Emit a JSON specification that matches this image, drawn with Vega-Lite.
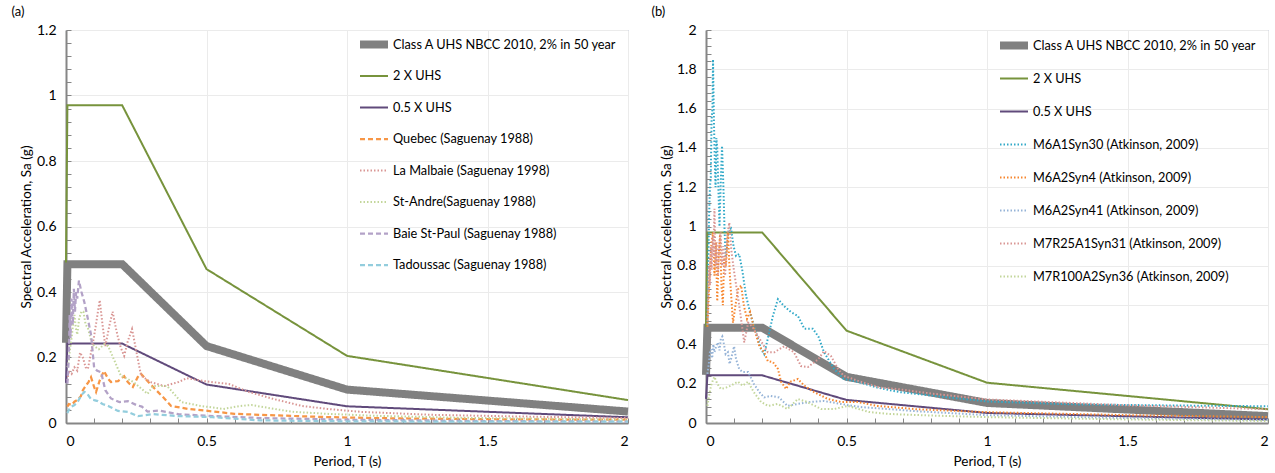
{
  "$schema": "https://vega.github.io/schema/vega-lite/v6.json",
  "background": "white",
  "padding": {"left": 10, "top": 5, "right": 0, "bottom": 3},
  "bounds": "flush",
  "spacing": 78,
  "config": {
    "font": "Lato",
    "view": {"stroke": "#8EA9DB", "strokeWidth": 1},
    "axis": {
      "labelFont": "Lato", "titleFont": "Lato", "labelFontSize": 14, "titleFontSize": 13.5,
      "titleFontWeight": "normal", "labelColor": "#000000", "titleColor": "#000000",
      "domainColor": "#868686", "domainWidth": 2, "tickColor": "#868686", "tickSize": -5, "tickWidth": 1,
      "gridColor": "#EBEBEB", "gridWidth": 1
    },
    "legend": {"labelFont": "Lato", "labelFontSize": 12.75, "labelColor": "#000000", "labelLimit": 400, "clipHeight": 23},
    "title": {"font": "Lato", "fontSize": 13, "fontWeight": "normal", "anchor": "start", "frame": "bounds", "offset": 4, "dx": -8, "color": "#000000"}
  },
  "datasets": {
    "uhs": [
      {"s":"Class A UHS NBCC 2010, 2% in 50 year","T":0,"Sa":0.245},
      {"s":"Class A UHS NBCC 2010, 2% in 50 year","T":0.005,"Sa":0.485},
      {"s":"Class A UHS NBCC 2010, 2% in 50 year","T":0.2,"Sa":0.485},
      {"s":"Class A UHS NBCC 2010, 2% in 50 year","T":0.5,"Sa":0.235},
      {"s":"Class A UHS NBCC 2010, 2% in 50 year","T":1,"Sa":0.102},
      {"s":"Class A UHS NBCC 2010, 2% in 50 year","T":2,"Sa":0.035},
      {"s":"2 X UHS","T":0,"Sa":0.49},
      {"s":"2 X UHS","T":0.005,"Sa":0.97},
      {"s":"2 X UHS","T":0.2,"Sa":0.97},
      {"s":"2 X UHS","T":0.5,"Sa":0.47},
      {"s":"2 X UHS","T":1,"Sa":0.205},
      {"s":"2 X UHS","T":2,"Sa":0.07},
      {"s":"0.5 X UHS","T":0,"Sa":0.1225},
      {"s":"0.5 X UHS","T":0.005,"Sa":0.2425},
      {"s":"0.5 X UHS","T":0.2,"Sa":0.2425},
      {"s":"0.5 X UHS","T":0.5,"Sa":0.1175},
      {"s":"0.5 X UHS","T":1,"Sa":0.051},
      {"s":"0.5 X UHS","T":2,"Sa":0.0175}
    ],
    "a": [
      {"s":"Quebec (Saguenay 1988)","T":0.005,"Sa":0.05},{"s":"Quebec (Saguenay 1988)","T":0.01,"Sa":0.058},{"s":"Quebec (Saguenay 1988)","T":0.02,"Sa":0.055},{"s":"Quebec (Saguenay 1988)","T":0.03,"Sa":0.065},{"s":"Quebec (Saguenay 1988)","T":0.04,"Sa":0.07},{"s":"Quebec (Saguenay 1988)","T":0.053,"Sa":0.082},{"s":"Quebec (Saguenay 1988)","T":0.06,"Sa":0.1},{"s":"Quebec (Saguenay 1988)","T":0.07,"Sa":0.113},{"s":"Quebec (Saguenay 1988)","T":0.08,"Sa":0.125},{"s":"Quebec (Saguenay 1988)","T":0.089,"Sa":0.14},{"s":"Quebec (Saguenay 1988)","T":0.1,"Sa":0.11},{"s":"Quebec (Saguenay 1988)","T":0.107,"Sa":0.095},{"s":"Quebec (Saguenay 1988)","T":0.12,"Sa":0.13},{"s":"Quebec (Saguenay 1988)","T":0.135,"Sa":0.159},{"s":"Quebec (Saguenay 1988)","T":0.15,"Sa":0.135},{"s":"Quebec (Saguenay 1988)","T":0.16,"Sa":0.125},{"s":"Quebec (Saguenay 1988)","T":0.185,"Sa":0.128},{"s":"Quebec (Saguenay 1988)","T":0.207,"Sa":0.143},{"s":"Quebec (Saguenay 1988)","T":0.22,"Sa":0.125},{"s":"Quebec (Saguenay 1988)","T":0.238,"Sa":0.11},{"s":"Quebec (Saguenay 1988)","T":0.255,"Sa":0.14},{"s":"Quebec (Saguenay 1988)","T":0.267,"Sa":0.15},{"s":"Quebec (Saguenay 1988)","T":0.29,"Sa":0.128},{"s":"Quebec (Saguenay 1988)","T":0.31,"Sa":0.11},{"s":"Quebec (Saguenay 1988)","T":0.327,"Sa":0.095},{"s":"Quebec (Saguenay 1988)","T":0.35,"Sa":0.075},{"s":"Quebec (Saguenay 1988)","T":0.374,"Sa":0.052},{"s":"Quebec (Saguenay 1988)","T":0.434,"Sa":0.043},{"s":"Quebec (Saguenay 1988)","T":0.505,"Sa":0.037},{"s":"Quebec (Saguenay 1988)","T":0.6,"Sa":0.028},{"s":"Quebec (Saguenay 1988)","T":0.72,"Sa":0.024},{"s":"Quebec (Saguenay 1988)","T":0.93,"Sa":0.018},{"s":"Quebec (Saguenay 1988)","T":1.1,"Sa":0.015},{"s":"Quebec (Saguenay 1988)","T":1.3,"Sa":0.013},{"s":"Quebec (Saguenay 1988)","T":1.6,"Sa":0.011},{"s":"Quebec (Saguenay 1988)","T":2,"Sa":0.01},
      {"s":"La Malbaie (Saguenay 1998)","T":0.005,"Sa":0.13},{"s":"La Malbaie (Saguenay 1998)","T":0.01,"Sa":0.16},{"s":"La Malbaie (Saguenay 1998)","T":0.02,"Sa":0.15},{"s":"La Malbaie (Saguenay 1998)","T":0.03,"Sa":0.17},{"s":"La Malbaie (Saguenay 1998)","T":0.04,"Sa":0.16},{"s":"La Malbaie (Saguenay 1998)","T":0.05,"Sa":0.215},{"s":"La Malbaie (Saguenay 1998)","T":0.06,"Sa":0.2},{"s":"La Malbaie (Saguenay 1998)","T":0.07,"Sa":0.17},{"s":"La Malbaie (Saguenay 1998)","T":0.078,"Sa":0.165},{"s":"La Malbaie (Saguenay 1998)","T":0.09,"Sa":0.22},{"s":"La Malbaie (Saguenay 1998)","T":0.1,"Sa":0.265},{"s":"La Malbaie (Saguenay 1998)","T":0.11,"Sa":0.32},{"s":"La Malbaie (Saguenay 1998)","T":0.12,"Sa":0.375},{"s":"La Malbaie (Saguenay 1998)","T":0.13,"Sa":0.3},{"s":"La Malbaie (Saguenay 1998)","T":0.14,"Sa":0.235},{"s":"La Malbaie (Saguenay 1998)","T":0.155,"Sa":0.3},{"s":"La Malbaie (Saguenay 1998)","T":0.166,"Sa":0.34},{"s":"La Malbaie (Saguenay 1998)","T":0.175,"Sa":0.3},{"s":"La Malbaie (Saguenay 1998)","T":0.184,"Sa":0.265},{"s":"La Malbaie (Saguenay 1998)","T":0.195,"Sa":0.23},{"s":"La Malbaie (Saguenay 1998)","T":0.207,"Sa":0.205},{"s":"La Malbaie (Saguenay 1998)","T":0.22,"Sa":0.25},{"s":"La Malbaie (Saguenay 1998)","T":0.235,"Sa":0.287},{"s":"La Malbaie (Saguenay 1998)","T":0.25,"Sa":0.22},{"s":"La Malbaie (Saguenay 1998)","T":0.267,"Sa":0.145},{"s":"La Malbaie (Saguenay 1998)","T":0.3,"Sa":0.125},{"s":"La Malbaie (Saguenay 1998)","T":0.35,"Sa":0.113},{"s":"La Malbaie (Saguenay 1998)","T":0.4,"Sa":0.125},{"s":"La Malbaie (Saguenay 1998)","T":0.43,"Sa":0.137},{"s":"La Malbaie (Saguenay 1998)","T":0.49,"Sa":0.128},{"s":"La Malbaie (Saguenay 1998)","T":0.58,"Sa":0.119},{"s":"La Malbaie (Saguenay 1998)","T":0.65,"Sa":0.095},{"s":"La Malbaie (Saguenay 1998)","T":0.74,"Sa":0.073},{"s":"La Malbaie (Saguenay 1998)","T":0.84,"Sa":0.052},{"s":"La Malbaie (Saguenay 1998)","T":0.93,"Sa":0.043},{"s":"La Malbaie (Saguenay 1998)","T":1.05,"Sa":0.034},{"s":"La Malbaie (Saguenay 1998)","T":1.3,"Sa":0.025},{"s":"La Malbaie (Saguenay 1998)","T":1.6,"Sa":0.02},{"s":"La Malbaie (Saguenay 1998)","T":2,"Sa":0.015},
      {"s":"St-Andre(Saguenay 1988)","T":0.005,"Sa":0.17},{"s":"St-Andre(Saguenay 1988)","T":0.01,"Sa":0.19},{"s":"St-Andre(Saguenay 1988)","T":0.015,"Sa":0.23},{"s":"St-Andre(Saguenay 1988)","T":0.02,"Sa":0.26},{"s":"St-Andre(Saguenay 1988)","T":0.025,"Sa":0.3},{"s":"St-Andre(Saguenay 1988)","T":0.03,"Sa":0.33},{"s":"St-Andre(Saguenay 1988)","T":0.035,"Sa":0.29},{"s":"St-Andre(Saguenay 1988)","T":0.04,"Sa":0.27},{"s":"St-Andre(Saguenay 1988)","T":0.047,"Sa":0.32},{"s":"St-Andre(Saguenay 1988)","T":0.055,"Sa":0.34},{"s":"St-Andre(Saguenay 1988)","T":0.062,"Sa":0.34},{"s":"St-Andre(Saguenay 1988)","T":0.07,"Sa":0.3},{"s":"St-Andre(Saguenay 1988)","T":0.078,"Sa":0.29},{"s":"St-Andre(Saguenay 1988)","T":0.09,"Sa":0.25},{"s":"St-Andre(Saguenay 1988)","T":0.1,"Sa":0.235},{"s":"St-Andre(Saguenay 1988)","T":0.117,"Sa":0.225},{"s":"St-Andre(Saguenay 1988)","T":0.135,"Sa":0.24},{"s":"St-Andre(Saguenay 1988)","T":0.15,"Sa":0.235},{"s":"St-Andre(Saguenay 1988)","T":0.17,"Sa":0.195},{"s":"St-Andre(Saguenay 1988)","T":0.195,"Sa":0.145},{"s":"St-Andre(Saguenay 1988)","T":0.24,"Sa":0.125},{"s":"St-Andre(Saguenay 1988)","T":0.29,"Sa":0.089},{"s":"St-Andre(Saguenay 1988)","T":0.31,"Sa":0.113},{"s":"St-Andre(Saguenay 1988)","T":0.36,"Sa":0.113},{"s":"St-Andre(Saguenay 1988)","T":0.41,"Sa":0.064},{"s":"St-Andre(Saguenay 1988)","T":0.48,"Sa":0.052},{"s":"St-Andre(Saguenay 1988)","T":0.56,"Sa":0.043},{"s":"St-Andre(Saguenay 1988)","T":0.62,"Sa":0.052},{"s":"St-Andre(Saguenay 1988)","T":0.66,"Sa":0.055},{"s":"St-Andre(Saguenay 1988)","T":0.74,"Sa":0.043},{"s":"St-Andre(Saguenay 1988)","T":0.81,"Sa":0.034},{"s":"St-Andre(Saguenay 1988)","T":0.93,"Sa":0.028},{"s":"St-Andre(Saguenay 1988)","T":1.1,"Sa":0.022},{"s":"St-Andre(Saguenay 1988)","T":1.4,"Sa":0.016},{"s":"St-Andre(Saguenay 1988)","T":2,"Sa":0.01},
      {"s":"Baie St-Paul (Saguenay 1988)","T":0.005,"Sa":0.12},{"s":"Baie St-Paul (Saguenay 1988)","T":0.01,"Sa":0.2},{"s":"Baie St-Paul (Saguenay 1988)","T":0.013,"Sa":0.33},{"s":"Baie St-Paul (Saguenay 1988)","T":0.016,"Sa":0.26},{"s":"Baie St-Paul (Saguenay 1988)","T":0.02,"Sa":0.38},{"s":"Baie St-Paul (Saguenay 1988)","T":0.024,"Sa":0.3},{"s":"Baie St-Paul (Saguenay 1988)","T":0.028,"Sa":0.41},{"s":"Baie St-Paul (Saguenay 1988)","T":0.032,"Sa":0.34},{"s":"Baie St-Paul (Saguenay 1988)","T":0.036,"Sa":0.4},{"s":"Baie St-Paul (Saguenay 1988)","T":0.04,"Sa":0.38},{"s":"Baie St-Paul (Saguenay 1988)","T":0.046,"Sa":0.435},{"s":"Baie St-Paul (Saguenay 1988)","T":0.055,"Sa":0.4},{"s":"Baie St-Paul (Saguenay 1988)","T":0.065,"Sa":0.37},{"s":"Baie St-Paul (Saguenay 1988)","T":0.075,"Sa":0.33},{"s":"Baie St-Paul (Saguenay 1988)","T":0.089,"Sa":0.27},{"s":"Baie St-Paul (Saguenay 1988)","T":0.1,"Sa":0.17},{"s":"Baie St-Paul (Saguenay 1988)","T":0.11,"Sa":0.16},{"s":"Baie St-Paul (Saguenay 1988)","T":0.125,"Sa":0.155},{"s":"Baie St-Paul (Saguenay 1988)","T":0.14,"Sa":0.1},{"s":"Baie St-Paul (Saguenay 1988)","T":0.16,"Sa":0.075},{"s":"Baie St-Paul (Saguenay 1988)","T":0.19,"Sa":0.064},{"s":"Baie St-Paul (Saguenay 1988)","T":0.22,"Sa":0.067},{"s":"Baie St-Paul (Saguenay 1988)","T":0.25,"Sa":0.055},{"s":"Baie St-Paul (Saguenay 1988)","T":0.27,"Sa":0.05},{"s":"Baie St-Paul (Saguenay 1988)","T":0.29,"Sa":0.035},{"s":"Baie St-Paul (Saguenay 1988)","T":0.33,"Sa":0.038},{"s":"Baie St-Paul (Saguenay 1988)","T":0.4,"Sa":0.027},{"s":"Baie St-Paul (Saguenay 1988)","T":0.5,"Sa":0.022},{"s":"Baie St-Paul (Saguenay 1988)","T":0.7,"Sa":0.015},{"s":"Baie St-Paul (Saguenay 1988)","T":1,"Sa":0.01},{"s":"Baie St-Paul (Saguenay 1988)","T":1.5,"Sa":0.006},{"s":"Baie St-Paul (Saguenay 1988)","T":2,"Sa":0.004},
      {"s":"Tadoussac (Saguenay 1988)","T":0.005,"Sa":0.03},{"s":"Tadoussac (Saguenay 1988)","T":0.01,"Sa":0.04},{"s":"Tadoussac (Saguenay 1988)","T":0.02,"Sa":0.05},{"s":"Tadoussac (Saguenay 1988)","T":0.03,"Sa":0.055},{"s":"Tadoussac (Saguenay 1988)","T":0.043,"Sa":0.067},{"s":"Tadoussac (Saguenay 1988)","T":0.055,"Sa":0.085},{"s":"Tadoussac (Saguenay 1988)","T":0.065,"Sa":0.095},{"s":"Tadoussac (Saguenay 1988)","T":0.075,"Sa":0.09},{"s":"Tadoussac (Saguenay 1988)","T":0.089,"Sa":0.073},{"s":"Tadoussac (Saguenay 1988)","T":0.1,"Sa":0.07},{"s":"Tadoussac (Saguenay 1988)","T":0.113,"Sa":0.067},{"s":"Tadoussac (Saguenay 1988)","T":0.13,"Sa":0.058},{"s":"Tadoussac (Saguenay 1988)","T":0.15,"Sa":0.052},{"s":"Tadoussac (Saguenay 1988)","T":0.185,"Sa":0.037},{"s":"Tadoussac (Saguenay 1988)","T":0.22,"Sa":0.034},{"s":"Tadoussac (Saguenay 1988)","T":0.256,"Sa":0.021},{"s":"Tadoussac (Saguenay 1988)","T":0.31,"Sa":0.027},{"s":"Tadoussac (Saguenay 1988)","T":0.4,"Sa":0.021},{"s":"Tadoussac (Saguenay 1988)","T":0.52,"Sa":0.018},{"s":"Tadoussac (Saguenay 1988)","T":0.69,"Sa":0.008},{"s":"Tadoussac (Saguenay 1988)","T":1,"Sa":0.005},{"s":"Tadoussac (Saguenay 1988)","T":1.5,"Sa":0.004},{"s":"Tadoussac (Saguenay 1988)","T":2,"Sa":0.004}
    ],
    "b": [
      {"s":"M6A1Syn30 (Atkinson, 2009)","T":0.005,"Sa":0.5},{"s":"M6A1Syn30 (Atkinson, 2009)","T":0.008,"Sa":0.8},{"s":"M6A1Syn30 (Atkinson, 2009)","T":0.011,"Sa":1.05},{"s":"M6A1Syn30 (Atkinson, 2009)","T":0.014,"Sa":1.2},{"s":"M6A1Syn30 (Atkinson, 2009)","T":0.017,"Sa":1.25},{"s":"M6A1Syn30 (Atkinson, 2009)","T":0.02,"Sa":1.55},{"s":"M6A1Syn30 (Atkinson, 2009)","T":0.023,"Sa":1.6},{"s":"M6A1Syn30 (Atkinson, 2009)","T":0.025,"Sa":1.85},{"s":"M6A1Syn30 (Atkinson, 2009)","T":0.028,"Sa":1.55},{"s":"M6A1Syn30 (Atkinson, 2009)","T":0.031,"Sa":1.35},{"s":"M6A1Syn30 (Atkinson, 2009)","T":0.034,"Sa":1.2},{"s":"M6A1Syn30 (Atkinson, 2009)","T":0.037,"Sa":1.45},{"s":"M6A1Syn30 (Atkinson, 2009)","T":0.04,"Sa":1.4},{"s":"M6A1Syn30 (Atkinson, 2009)","T":0.044,"Sa":1.2},{"s":"M6A1Syn30 (Atkinson, 2009)","T":0.048,"Sa":1.0},{"s":"M6A1Syn30 (Atkinson, 2009)","T":0.052,"Sa":1.2},{"s":"M6A1Syn30 (Atkinson, 2009)","T":0.057,"Sa":1.41},{"s":"M6A1Syn30 (Atkinson, 2009)","T":0.062,"Sa":1.2},{"s":"M6A1Syn30 (Atkinson, 2009)","T":0.066,"Sa":0.98},{"s":"M6A1Syn30 (Atkinson, 2009)","T":0.07,"Sa":0.85},{"s":"M6A1Syn30 (Atkinson, 2009)","T":0.075,"Sa":0.9},{"s":"M6A1Syn30 (Atkinson, 2009)","T":0.08,"Sa":0.98},{"s":"M6A1Syn30 (Atkinson, 2009)","T":0.089,"Sa":0.99},{"s":"M6A1Syn30 (Atkinson, 2009)","T":0.098,"Sa":0.9},{"s":"M6A1Syn30 (Atkinson, 2009)","T":0.107,"Sa":0.85},{"s":"M6A1Syn30 (Atkinson, 2009)","T":0.118,"Sa":0.86},{"s":"M6A1Syn30 (Atkinson, 2009)","T":0.13,"Sa":0.77},{"s":"M6A1Syn30 (Atkinson, 2009)","T":0.142,"Sa":0.65},{"s":"M6A1Syn30 (Atkinson, 2009)","T":0.16,"Sa":0.545},{"s":"M6A1Syn30 (Atkinson, 2009)","T":0.178,"Sa":0.46},{"s":"M6A1Syn30 (Atkinson, 2009)","T":0.196,"Sa":0.375},{"s":"M6A1Syn30 (Atkinson, 2009)","T":0.207,"Sa":0.35},{"s":"M6A1Syn30 (Atkinson, 2009)","T":0.22,"Sa":0.43},{"s":"M6A1Syn30 (Atkinson, 2009)","T":0.238,"Sa":0.545},{"s":"M6A1Syn30 (Atkinson, 2009)","T":0.256,"Sa":0.63},{"s":"M6A1Syn30 (Atkinson, 2009)","T":0.278,"Sa":0.595},{"s":"M6A1Syn30 (Atkinson, 2009)","T":0.302,"Sa":0.565},{"s":"M6A1Syn30 (Atkinson, 2009)","T":0.327,"Sa":0.545},{"s":"M6A1Syn30 (Atkinson, 2009)","T":0.35,"Sa":0.48},{"s":"M6A1Syn30 (Atkinson, 2009)","T":0.38,"Sa":0.48},{"s":"M6A1Syn30 (Atkinson, 2009)","T":0.4,"Sa":0.44},{"s":"M6A1Syn30 (Atkinson, 2009)","T":0.42,"Sa":0.36},{"s":"M6A1Syn30 (Atkinson, 2009)","T":0.456,"Sa":0.275},{"s":"M6A1Syn30 (Atkinson, 2009)","T":0.49,"Sa":0.224},{"s":"M6A1Syn30 (Atkinson, 2009)","T":0.54,"Sa":0.21},{"s":"M6A1Syn30 (Atkinson, 2009)","T":0.61,"Sa":0.18},{"s":"M6A1Syn30 (Atkinson, 2009)","T":0.69,"Sa":0.157},{"s":"M6A1Syn30 (Atkinson, 2009)","T":0.8,"Sa":0.14},{"s":"M6A1Syn30 (Atkinson, 2009)","T":1,"Sa":0.11},{"s":"M6A1Syn30 (Atkinson, 2009)","T":1.3,"Sa":0.095},{"s":"M6A1Syn30 (Atkinson, 2009)","T":1.6,"Sa":0.09},{"s":"M6A1Syn30 (Atkinson, 2009)","T":2,"Sa":0.085},
      {"s":"M6A2Syn4 (Atkinson, 2009)","T":0.005,"Sa":0.49},{"s":"M6A2Syn4 (Atkinson, 2009)","T":0.01,"Sa":0.65},{"s":"M6A2Syn4 (Atkinson, 2009)","T":0.015,"Sa":0.82},{"s":"M6A2Syn4 (Atkinson, 2009)","T":0.02,"Sa":0.92},{"s":"M6A2Syn4 (Atkinson, 2009)","T":0.025,"Sa":0.97},{"s":"M6A2Syn4 (Atkinson, 2009)","T":0.03,"Sa":0.75},{"s":"M6A2Syn4 (Atkinson, 2009)","T":0.035,"Sa":0.92},{"s":"M6A2Syn4 (Atkinson, 2009)","T":0.04,"Sa":0.62},{"s":"M6A2Syn4 (Atkinson, 2009)","T":0.045,"Sa":0.85},{"s":"M6A2Syn4 (Atkinson, 2009)","T":0.05,"Sa":0.96},{"s":"M6A2Syn4 (Atkinson, 2009)","T":0.055,"Sa":0.7},{"s":"M6A2Syn4 (Atkinson, 2009)","T":0.06,"Sa":0.6},{"s":"M6A2Syn4 (Atkinson, 2009)","T":0.065,"Sa":0.85},{"s":"M6A2Syn4 (Atkinson, 2009)","T":0.071,"Sa":0.8},{"s":"M6A2Syn4 (Atkinson, 2009)","T":0.078,"Sa":0.97},{"s":"M6A2Syn4 (Atkinson, 2009)","T":0.085,"Sa":0.75},{"s":"M6A2Syn4 (Atkinson, 2009)","T":0.096,"Sa":0.51},{"s":"M6A2Syn4 (Atkinson, 2009)","T":0.105,"Sa":0.6},{"s":"M6A2Syn4 (Atkinson, 2009)","T":0.114,"Sa":0.68},{"s":"M6A2Syn4 (Atkinson, 2009)","T":0.125,"Sa":0.7},{"s":"M6A2Syn4 (Atkinson, 2009)","T":0.135,"Sa":0.595},{"s":"M6A2Syn4 (Atkinson, 2009)","T":0.146,"Sa":0.53},{"s":"M6A2Syn4 (Atkinson, 2009)","T":0.157,"Sa":0.565},{"s":"M6A2Syn4 (Atkinson, 2009)","T":0.17,"Sa":0.49},{"s":"M6A2Syn4 (Atkinson, 2009)","T":0.19,"Sa":0.39},{"s":"M6A2Syn4 (Atkinson, 2009)","T":0.207,"Sa":0.36},{"s":"M6A2Syn4 (Atkinson, 2009)","T":0.22,"Sa":0.315},{"s":"M6A2Syn4 (Atkinson, 2009)","T":0.238,"Sa":0.31},{"s":"M6A2Syn4 (Atkinson, 2009)","T":0.256,"Sa":0.275},{"s":"M6A2Syn4 (Atkinson, 2009)","T":0.267,"Sa":0.21},{"s":"M6A2Syn4 (Atkinson, 2009)","T":0.285,"Sa":0.173},{"s":"M6A2Syn4 (Atkinson, 2009)","T":0.3,"Sa":0.21},{"s":"M6A2Syn4 (Atkinson, 2009)","T":0.327,"Sa":0.224},{"s":"M6A2Syn4 (Atkinson, 2009)","T":0.35,"Sa":0.19},{"s":"M6A2Syn4 (Atkinson, 2009)","T":0.385,"Sa":0.157},{"s":"M6A2Syn4 (Atkinson, 2009)","T":0.434,"Sa":0.122},{"s":"M6A2Syn4 (Atkinson, 2009)","T":0.48,"Sa":0.107},{"s":"M6A2Syn4 (Atkinson, 2009)","T":0.54,"Sa":0.107},{"s":"M6A2Syn4 (Atkinson, 2009)","T":0.61,"Sa":0.087},{"s":"M6A2Syn4 (Atkinson, 2009)","T":0.75,"Sa":0.07},{"s":"M6A2Syn4 (Atkinson, 2009)","T":1,"Sa":0.055},{"s":"M6A2Syn4 (Atkinson, 2009)","T":1.5,"Sa":0.04},{"s":"M6A2Syn4 (Atkinson, 2009)","T":2,"Sa":0.03},
      {"s":"M6A2Syn41 (Atkinson, 2009)","T":0.005,"Sa":0.25},{"s":"M6A2Syn41 (Atkinson, 2009)","T":0.01,"Sa":0.3},{"s":"M6A2Syn41 (Atkinson, 2009)","T":0.014,"Sa":0.36},{"s":"M6A2Syn41 (Atkinson, 2009)","T":0.018,"Sa":0.375},{"s":"M6A2Syn41 (Atkinson, 2009)","T":0.022,"Sa":0.33},{"s":"M6A2Syn41 (Atkinson, 2009)","T":0.026,"Sa":0.4},{"s":"M6A2Syn41 (Atkinson, 2009)","T":0.03,"Sa":0.36},{"s":"M6A2Syn41 (Atkinson, 2009)","T":0.036,"Sa":0.39},{"s":"M6A2Syn41 (Atkinson, 2009)","T":0.042,"Sa":0.41},{"s":"M6A2Syn41 (Atkinson, 2009)","T":0.048,"Sa":0.37},{"s":"M6A2Syn41 (Atkinson, 2009)","T":0.053,"Sa":0.43},{"s":"M6A2Syn41 (Atkinson, 2009)","T":0.058,"Sa":0.44},{"s":"M6A2Syn41 (Atkinson, 2009)","T":0.064,"Sa":0.4},{"s":"M6A2Syn41 (Atkinson, 2009)","T":0.07,"Sa":0.35},{"s":"M6A2Syn41 (Atkinson, 2009)","T":0.078,"Sa":0.36},{"s":"M6A2Syn41 (Atkinson, 2009)","T":0.084,"Sa":0.3},{"s":"M6A2Syn41 (Atkinson, 2009)","T":0.089,"Sa":0.325},{"s":"M6A2Syn41 (Atkinson, 2009)","T":0.1,"Sa":0.39},{"s":"M6A2Syn41 (Atkinson, 2009)","T":0.107,"Sa":0.325},{"s":"M6A2Syn41 (Atkinson, 2009)","T":0.118,"Sa":0.275},{"s":"M6A2Syn41 (Atkinson, 2009)","T":0.13,"Sa":0.26},{"s":"M6A2Syn41 (Atkinson, 2009)","T":0.15,"Sa":0.26},{"s":"M6A2Syn41 (Atkinson, 2009)","T":0.17,"Sa":0.2},{"s":"M6A2Syn41 (Atkinson, 2009)","T":0.19,"Sa":0.157},{"s":"M6A2Syn41 (Atkinson, 2009)","T":0.207,"Sa":0.13},{"s":"M6A2Syn41 (Atkinson, 2009)","T":0.23,"Sa":0.138},{"s":"M6A2Syn41 (Atkinson, 2009)","T":0.26,"Sa":0.13},{"s":"M6A2Syn41 (Atkinson, 2009)","T":0.29,"Sa":0.087},{"s":"M6A2Syn41 (Atkinson, 2009)","T":0.327,"Sa":0.097},{"s":"M6A2Syn41 (Atkinson, 2009)","T":0.37,"Sa":0.107},{"s":"M6A2Syn41 (Atkinson, 2009)","T":0.42,"Sa":0.112},{"s":"M6A2Syn41 (Atkinson, 2009)","T":0.48,"Sa":0.097},{"s":"M6A2Syn41 (Atkinson, 2009)","T":0.55,"Sa":0.081},{"s":"M6A2Syn41 (Atkinson, 2009)","T":0.65,"Sa":0.071},{"s":"M6A2Syn41 (Atkinson, 2009)","T":0.75,"Sa":0.06},{"s":"M6A2Syn41 (Atkinson, 2009)","T":1,"Sa":0.04},{"s":"M6A2Syn41 (Atkinson, 2009)","T":1.5,"Sa":0.025},{"s":"M6A2Syn41 (Atkinson, 2009)","T":2,"Sa":0.015},
      {"s":"M7R25A1Syn31 (Atkinson, 2009)","T":0.005,"Sa":0.5},{"s":"M7R25A1Syn31 (Atkinson, 2009)","T":0.008,"Sa":0.65},{"s":"M7R25A1Syn31 (Atkinson, 2009)","T":0.011,"Sa":0.8},{"s":"M7R25A1Syn31 (Atkinson, 2009)","T":0.014,"Sa":0.7},{"s":"M7R25A1Syn31 (Atkinson, 2009)","T":0.017,"Sa":0.9},{"s":"M7R25A1Syn31 (Atkinson, 2009)","T":0.02,"Sa":0.78},{"s":"M7R25A1Syn31 (Atkinson, 2009)","T":0.024,"Sa":0.95},{"s":"M7R25A1Syn31 (Atkinson, 2009)","T":0.027,"Sa":0.85},{"s":"M7R25A1Syn31 (Atkinson, 2009)","T":0.03,"Sa":1.09},{"s":"M7R25A1Syn31 (Atkinson, 2009)","T":0.034,"Sa":0.8},{"s":"M7R25A1Syn31 (Atkinson, 2009)","T":0.038,"Sa":0.92},{"s":"M7R25A1Syn31 (Atkinson, 2009)","T":0.042,"Sa":0.75},{"s":"M7R25A1Syn31 (Atkinson, 2009)","T":0.047,"Sa":0.9},{"s":"M7R25A1Syn31 (Atkinson, 2009)","T":0.052,"Sa":0.97},{"s":"M7R25A1Syn31 (Atkinson, 2009)","T":0.057,"Sa":0.8},{"s":"M7R25A1Syn31 (Atkinson, 2009)","T":0.062,"Sa":0.9},{"s":"M7R25A1Syn31 (Atkinson, 2009)","T":0.068,"Sa":0.75},{"s":"M7R25A1Syn31 (Atkinson, 2009)","T":0.075,"Sa":0.95},{"s":"M7R25A1Syn31 (Atkinson, 2009)","T":0.083,"Sa":1.02},{"s":"M7R25A1Syn31 (Atkinson, 2009)","T":0.09,"Sa":0.88},{"s":"M7R25A1Syn31 (Atkinson, 2009)","T":0.1,"Sa":0.77},{"s":"M7R25A1Syn31 (Atkinson, 2009)","T":0.118,"Sa":0.6},{"s":"M7R25A1Syn31 (Atkinson, 2009)","T":0.136,"Sa":0.41},{"s":"M7R25A1Syn31 (Atkinson, 2009)","T":0.15,"Sa":0.51},{"s":"M7R25A1Syn31 (Atkinson, 2009)","T":0.165,"Sa":0.49},{"s":"M7R25A1Syn31 (Atkinson, 2009)","T":0.19,"Sa":0.43},{"s":"M7R25A1Syn31 (Atkinson, 2009)","T":0.22,"Sa":0.36},{"s":"M7R25A1Syn31 (Atkinson, 2009)","T":0.243,"Sa":0.36},{"s":"M7R25A1Syn31 (Atkinson, 2009)","T":0.278,"Sa":0.39},{"s":"M7R25A1Syn31 (Atkinson, 2009)","T":0.313,"Sa":0.36},{"s":"M7R25A1Syn31 (Atkinson, 2009)","T":0.338,"Sa":0.29},{"s":"M7R25A1Syn31 (Atkinson, 2009)","T":0.363,"Sa":0.285},{"s":"M7R25A1Syn31 (Atkinson, 2009)","T":0.4,"Sa":0.325},{"s":"M7R25A1Syn31 (Atkinson, 2009)","T":0.42,"Sa":0.366},{"s":"M7R25A1Syn31 (Atkinson, 2009)","T":0.445,"Sa":0.34},{"s":"M7R25A1Syn31 (Atkinson, 2009)","T":0.47,"Sa":0.275},{"s":"M7R25A1Syn31 (Atkinson, 2009)","T":0.49,"Sa":0.24},{"s":"M7R25A1Syn31 (Atkinson, 2009)","T":0.55,"Sa":0.21},{"s":"M7R25A1Syn31 (Atkinson, 2009)","T":0.62,"Sa":0.18},{"s":"M7R25A1Syn31 (Atkinson, 2009)","T":0.68,"Sa":0.173},{"s":"M7R25A1Syn31 (Atkinson, 2009)","T":0.8,"Sa":0.15},{"s":"M7R25A1Syn31 (Atkinson, 2009)","T":1,"Sa":0.12},{"s":"M7R25A1Syn31 (Atkinson, 2009)","T":1.5,"Sa":0.09},{"s":"M7R25A1Syn31 (Atkinson, 2009)","T":2,"Sa":0.07},
      {"s":"M7R100A2Syn36 (Atkinson, 2009)","T":0.005,"Sa":0.087},{"s":"M7R100A2Syn36 (Atkinson, 2009)","T":0.01,"Sa":0.13},{"s":"M7R100A2Syn36 (Atkinson, 2009)","T":0.018,"Sa":0.19},{"s":"M7R100A2Syn36 (Atkinson, 2009)","T":0.025,"Sa":0.22},{"s":"M7R100A2Syn36 (Atkinson, 2009)","T":0.03,"Sa":0.235},{"s":"M7R100A2Syn36 (Atkinson, 2009)","T":0.04,"Sa":0.2},{"s":"M7R100A2Syn36 (Atkinson, 2009)","T":0.053,"Sa":0.173},{"s":"M7R100A2Syn36 (Atkinson, 2009)","T":0.071,"Sa":0.18},{"s":"M7R100A2Syn36 (Atkinson, 2009)","T":0.089,"Sa":0.19},{"s":"M7R100A2Syn36 (Atkinson, 2009)","T":0.1,"Sa":0.2},{"s":"M7R100A2Syn36 (Atkinson, 2009)","T":0.114,"Sa":0.21},{"s":"M7R100A2Syn36 (Atkinson, 2009)","T":0.13,"Sa":0.19},{"s":"M7R100A2Syn36 (Atkinson, 2009)","T":0.15,"Sa":0.21},{"s":"M7R100A2Syn36 (Atkinson, 2009)","T":0.17,"Sa":0.157},{"s":"M7R100A2Syn36 (Atkinson, 2009)","T":0.196,"Sa":0.107},{"s":"M7R100A2Syn36 (Atkinson, 2009)","T":0.22,"Sa":0.087},{"s":"M7R100A2Syn36 (Atkinson, 2009)","T":0.256,"Sa":0.097},{"s":"M7R100A2Syn36 (Atkinson, 2009)","T":0.29,"Sa":0.071},{"s":"M7R100A2Syn36 (Atkinson, 2009)","T":0.327,"Sa":0.122},{"s":"M7R100A2Syn36 (Atkinson, 2009)","T":0.36,"Sa":0.107},{"s":"M7R100A2Syn36 (Atkinson, 2009)","T":0.41,"Sa":0.071},{"s":"M7R100A2Syn36 (Atkinson, 2009)","T":0.456,"Sa":0.071},{"s":"M7R100A2Syn36 (Atkinson, 2009)","T":0.505,"Sa":0.087},{"s":"M7R100A2Syn36 (Atkinson, 2009)","T":0.58,"Sa":0.056},{"s":"M7R100A2Syn36 (Atkinson, 2009)","T":0.65,"Sa":0.046},{"s":"M7R100A2Syn36 (Atkinson, 2009)","T":0.8,"Sa":0.038},{"s":"M7R100A2Syn36 (Atkinson, 2009)","T":1,"Sa":0.03},{"s":"M7R100A2Syn36 (Atkinson, 2009)","T":1.5,"Sa":0.018},{"s":"M7R100A2Syn36 (Atkinson, 2009)","T":2,"Sa":0.01}
    ]
  },
  "hconcat": [
    {
      "width": 562, "height": 393,
      "title": {"text": "(a)"},
      "encoding": {
        "x": {"field": "T", "type": "quantitative", "scale": {"domain": [0, 2], "nice": false},
          "axis": {"title": "Period, T (s)", "values": [0,0.1,0.2,0.3,0.4,0.5,0.6,0.7,0.8,0.9,1,1.1,1.2,1.3,1.4,1.5,1.6,1.7,1.8,1.9,2],
            "labelExpr": "abs(datum.value*2 - round(datum.value*2)) < 0.001 ? format(datum.value, '~g') : ''",
            "gridOpacity": {"condition": {"test": "abs(datum.value*2 - round(datum.value*2)) < 0.001", "value": 1}, "value": 0},
            "labelPadding": 16, "titlePadding": 6}},
        "y": {"field": "Sa", "type": "quantitative", "scale": {"domain": [0, 1.2], "nice": false},
          "axis": {"title": "Spectral Acceleration, Sa (g)", "values": [0,0.04,0.08,0.12,0.16,0.2,0.24,0.28,0.32,0.36,0.4,0.44,0.48,0.52,0.56,0.6,0.64,0.68,0.72,0.76,0.8,0.84,0.88,0.92,0.96,1,1.04,1.08,1.12,1.16,1.2],
            "labelExpr": "abs(datum.value*5 - round(datum.value*5)) < 0.001 ? format(datum.value, '~g') : ''",
            "gridOpacity": {"condition": {"test": "abs(datum.value*5 - round(datum.value*5)) < 0.001", "value": 1}, "value": 0},
            "labelPadding": 15, "titlePadding": 3}},
        "color": {"field": "s", "type": "nominal",
          "scale": {"domain": ["Class A UHS NBCC 2010, 2% in 50 year","2 X UHS","0.5 X UHS","Quebec (Saguenay 1988)","La Malbaie (Saguenay 1998)","St-Andre(Saguenay 1988)","Baie St-Paul (Saguenay 1988)","Tadoussac (Saguenay 1988)"],
            "range": ["#808080","#77933C","#604A7B","#F79646","#D99694","#C3D69B","#B3A2C7","#93CDDD"]},
          "legend": {"title": null, "orient": "none", "legendX": 290, "legendY": 3, "symbolType": "stroke", "symbolSize": 784, "rowPadding": 8.5, "labelOffset": 1}},
        "strokeDash": {"field": "s", "type": "nominal",
          "scale": {"domain": ["Class A UHS NBCC 2010, 2% in 50 year","2 X UHS","0.5 X UHS","Quebec (Saguenay 1988)","La Malbaie (Saguenay 1998)","St-Andre(Saguenay 1988)","Baie St-Paul (Saguenay 1988)","Tadoussac (Saguenay 1988)"],
            "range": [[1,0],[1,0],[1,0],[5,3],[1.5,2],[1.5,2],[5,3],[5,3]]},
          "legend": {"title": null, "orient": "none", "legendX": 290, "legendY": 3, "symbolType": "stroke", "symbolSize": 784, "rowPadding": 8.5, "labelOffset": 1}},
        "strokeWidth": {"field": "s", "type": "nominal",
          "scale": {"type": "ordinal", "domain": ["Class A UHS NBCC 2010, 2% in 50 year","2 X UHS","0.5 X UHS","Quebec (Saguenay 1988)","La Malbaie (Saguenay 1998)","St-Andre(Saguenay 1988)","Baie St-Paul (Saguenay 1988)","Tadoussac (Saguenay 1988)"],
            "range": [8,2,2,2.25,2,2,2.25,2.25]},
          "legend": {"title": null, "orient": "none", "legendX": 290, "legendY": 3, "symbolType": "stroke", "symbolSize": 784, "rowPadding": 8.5, "labelOffset": 1}}
      },
      "layer": [
        {"data": {"name": "uhs"}, "mark": {"type": "line", "strokeCap": "butt", "strokeJoin": "miter"}},
        {"data": {"name": "a"}, "mark": {"type": "line", "strokeCap": "butt"}}
      ]
    },
    {
      "width": 562, "height": 393,
      "title": {"text": "(b)"},
      "encoding": {
        "x": {"field": "T", "type": "quantitative", "scale": {"domain": [0, 2], "nice": false},
          "axis": {"title": "Period, T (s)", "values": [0,0.1,0.2,0.3,0.4,0.5,0.6,0.7,0.8,0.9,1,1.1,1.2,1.3,1.4,1.5,1.6,1.7,1.8,1.9,2],
            "labelExpr": "abs(datum.value*2 - round(datum.value*2)) < 0.001 ? format(datum.value, '~g') : ''",
            "gridOpacity": {"condition": {"test": "abs(datum.value*2 - round(datum.value*2)) < 0.001", "value": 1}, "value": 0},
            "labelPadding": 16, "titlePadding": 6}},
        "y": {"field": "Sa", "type": "quantitative", "scale": {"domain": [0, 2], "nice": false},
          "axis": {"title": "Spectral Acceleration, Sa (g)", "values": [0,0.04,0.08,0.12,0.16,0.2,0.24,0.28,0.32,0.36,0.4,0.44,0.48,0.52,0.56,0.6,0.64,0.68,0.72,0.76,0.8,0.84,0.88,0.92,0.96,1,1.04,1.08,1.12,1.16,1.2,1.24,1.28,1.32,1.36,1.4,1.44,1.48,1.52,1.56,1.6,1.64,1.68,1.72,1.76,1.8,1.84,1.88,1.92,1.96,2],
            "labelExpr": "abs(datum.value*5 - round(datum.value*5)) < 0.001 ? format(datum.value, '~g') : ''",
            "gridOpacity": {"condition": {"test": "abs(datum.value*5 - round(datum.value*5)) < 0.001", "value": 1}, "value": 0},
            "labelPadding": 15, "titlePadding": 3}},
        "color": {"field": "s", "type": "nominal",
          "scale": {"domain": ["Class A UHS NBCC 2010, 2% in 50 year","2 X UHS","0.5 X UHS","M6A1Syn30 (Atkinson, 2009)","M6A2Syn4 (Atkinson, 2009)","M6A2Syn41 (Atkinson, 2009)","M7R25A1Syn31 (Atkinson, 2009)","M7R100A2Syn36 (Atkinson, 2009)"],
            "range": ["#808080","#77933C","#604A7B","#31A9C8","#F7862E","#95B3D7","#D99694","#C3D69B"]},
          "legend": {"title": null, "orient": "none", "legendX": 290, "legendY": 4, "symbolType": "stroke", "symbolSize": 784, "rowPadding": 10, "labelOffset": 1}},
        "strokeDash": {"field": "s", "type": "nominal",
          "scale": {"domain": ["Class A UHS NBCC 2010, 2% in 50 year","2 X UHS","0.5 X UHS","M6A1Syn30 (Atkinson, 2009)","M6A2Syn4 (Atkinson, 2009)","M6A2Syn41 (Atkinson, 2009)","M7R25A1Syn31 (Atkinson, 2009)","M7R100A2Syn36 (Atkinson, 2009)"],
            "range": [[1,0],[1,0],[1,0],[1.5,2],[1.5,2],[1.5,2],[1.5,2],[1.5,2]]},
          "legend": {"title": null, "orient": "none", "legendX": 290, "legendY": 4, "symbolType": "stroke", "symbolSize": 784, "rowPadding": 10, "labelOffset": 1}},
        "strokeWidth": {"field": "s", "type": "nominal",
          "scale": {"type": "ordinal", "domain": ["Class A UHS NBCC 2010, 2% in 50 year","2 X UHS","0.5 X UHS","M6A1Syn30 (Atkinson, 2009)","M6A2Syn4 (Atkinson, 2009)","M6A2Syn41 (Atkinson, 2009)","M7R25A1Syn31 (Atkinson, 2009)","M7R100A2Syn36 (Atkinson, 2009)"],
            "range": [8,2,2,2,2,2,2,2]},
          "legend": {"title": null, "orient": "none", "legendX": 290, "legendY": 4, "symbolType": "stroke", "symbolSize": 784, "rowPadding": 10, "labelOffset": 1}}
      },
      "layer": [
        {"data": {"name": "uhs"}, "mark": {"type": "line", "strokeCap": "butt", "strokeJoin": "miter"}},
        {"data": {"name": "b"}, "mark": {"type": "line", "strokeCap": "butt"}}
      ]
    }
  ],
  "resolve": {"scale": {"y": "independent", "color": "independent", "strokeDash": "independent", "strokeWidth": "independent"}, "legend": {"color": "independent", "strokeDash": "independent", "strokeWidth": "independent"}}
}
